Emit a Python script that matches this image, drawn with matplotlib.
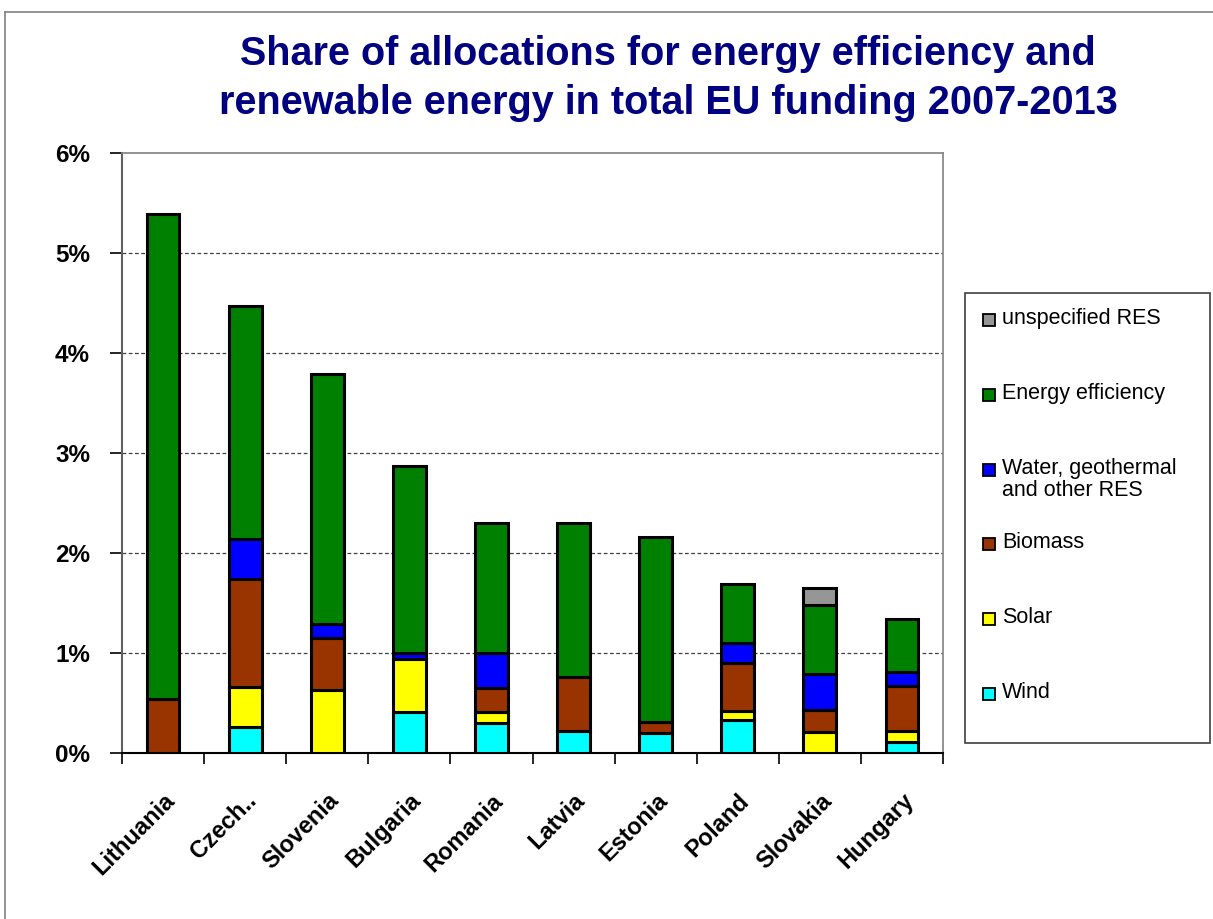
import numpy as np
import matplotlib.pyplot as plt
from matplotlib.lines import Line2D
from matplotlib.patches import Rectangle
from matplotlib.ticker import FuncFormatter, FixedLocator
from matplotlib.transforms import ScaledTranslation

plt.rcParams["font.family"] = ["Liberation Sans", "DejaVu Sans"]

countries = ["Lithuania", "Czech..", "Slovenia", "Bulgaria", "Romania",
             "Latvia", "Estonia", "Poland", "Slovakia", "Hungary"]

# shares of total EU funding, in percent
wind = [0.00, 0.26, 0.00, 0.41, 0.30, 0.22, 0.20, 0.33, 0.00, 0.11]
solar = [0.00, 0.40, 0.63, 0.53, 0.11, 0.00, 0.00, 0.09, 0.21, 0.11]
biomass = [0.54, 1.08, 0.52, 0.00, 0.24, 0.54, 0.11, 0.48, 0.22, 0.45]
water = [0.00, 0.40, 0.14, 0.06, 0.35, 0.00, 0.00, 0.20, 0.36, 0.14]
efficiency = [4.85, 2.33, 2.50, 1.87, 1.30, 1.54, 1.85, 0.59, 0.69, 0.53]
unspecified = [0.00, 0.00, 0.00, 0.00, 0.00, 0.00, 0.00, 0.00, 0.17, 0.00]

series = [
    ("Wind", wind, "#00FFFF"),
    ("Solar", solar, "#FFFF00"),
    ("Biomass", biomass, "#993300"),
    ("Water, geothermal\nand other RES", water, "#0000FF"),
    ("Energy efficiency", efficiency, "#008000"),
    ("unspecified RES", unspecified, "#969696"),
]

W, H = 1213, 919
fig = plt.figure(figsize=(W / 100, H / 100), dpi=100)
ax = fig.add_axes([122 / W, 1 - 753 / H, 821 / W, 600 / H])

x = np.arange(len(countries))
bottom = np.zeros(len(countries))
for name, vals, color in series:
    vals = np.array(vals)
    mask = vals > 0
    ax.bar(x[mask], vals[mask], 0.4, bottom=bottom[mask], color=color,
           edgecolor="black", linewidth=2.2, zorder=3)
    bottom += vals

ax.set_xlim(-0.5, len(countries) - 0.5)
ax.set_ylim(0, 6)
ax.yaxis.set_major_locator(FixedLocator(range(7)))
ax.yaxis.set_major_formatter(FuncFormatter(lambda v, p: f"{int(v)}%"))
for v in range(1, 6):
    ax.axhline(v, color="#404040", linestyle=(0, (3, 2)), linewidth=0.9, zorder=1)

ax.set_xticks(x)
ax.set_xticklabels(countries, rotation=45, ha="right", va="top",
                   rotation_mode="anchor", fontsize=17, fontweight="bold")
shift = ScaledTranslation(2 / 100, 0, fig.dpi_scale_trans)
for lab in ax.get_xticklabels():
    lab.set_transform(lab.get_transform() + shift)
ax.set_xticks(np.arange(-0.5, len(countries)), minor=True)
ax.tick_params(axis="x", which="major", length=0, pad=26)
ax.tick_params(axis="x", which="minor", length=8, width=1.2, direction="out")
ax.tick_params(axis="y", length=9, width=1.2, direction="out", pad=14)
for lab in ax.get_yticklabels():
    lab.set_fontsize(17.5)
    lab.set_fontweight("bold")

for side in ("top", "right"):
    ax.spines[side].set_color("#808080")
    ax.spines[side].set_linewidth(1.2)
ax.spines["left"].set_color("#606060")
ax.spines["left"].set_linewidth(1.5)
ax.spines["bottom"].set_color("black")
ax.spines["bottom"].set_linewidth(1.5)

fig.text(668 / W, 1 - 65 / H, "Share of allocations for energy efficiency and",
         ha="center", va="baseline", fontsize=28.5, fontweight="bold", color="#000080")
fig.text(668 / W, 1 - 114 / H, "renewable energy in total EU funding 2007-2013",
         ha="center", va="baseline", fontsize=28.5, fontweight="bold", color="#000080")

# legend box, top entry first, one marker per row
fig.add_artist(Rectangle((965 / W, 1 - 743 / H), 245 / W, 450 / H,
                         transform=fig.transFigure, facecolor="white",
                         edgecolor="#404040", linewidth=1.2))
for k, (name, _, color) in enumerate(series[::-1]):
    yk = 1 - (320 + 74.8 * k) / H
    fig.add_artist(Line2D([989 / W], [yk], linestyle="none", marker="s",
                          markersize=9, markerfacecolor=color,
                          markeredgecolor="black", markeredgewidth=1.3,
                          transform=fig.transFigure))
    fig.text(1002 / W, yk + 12 / H, name, ha="left", va="top",
             fontsize=15.5, linespacing=1.1)

# outer border of the chart area
fig.add_artist(Line2D([5 / W, 5 / W], [0, 1 - 12 / H],
                      color="#808080", linewidth=1.2, transform=fig.transFigure))
fig.add_artist(Line2D([5 / W, 1], [1 - 12 / H, 1 - 12 / H],
                      color="#808080", linewidth=1.2, transform=fig.transFigure))

fig.savefig("out.png", dpi=100)
